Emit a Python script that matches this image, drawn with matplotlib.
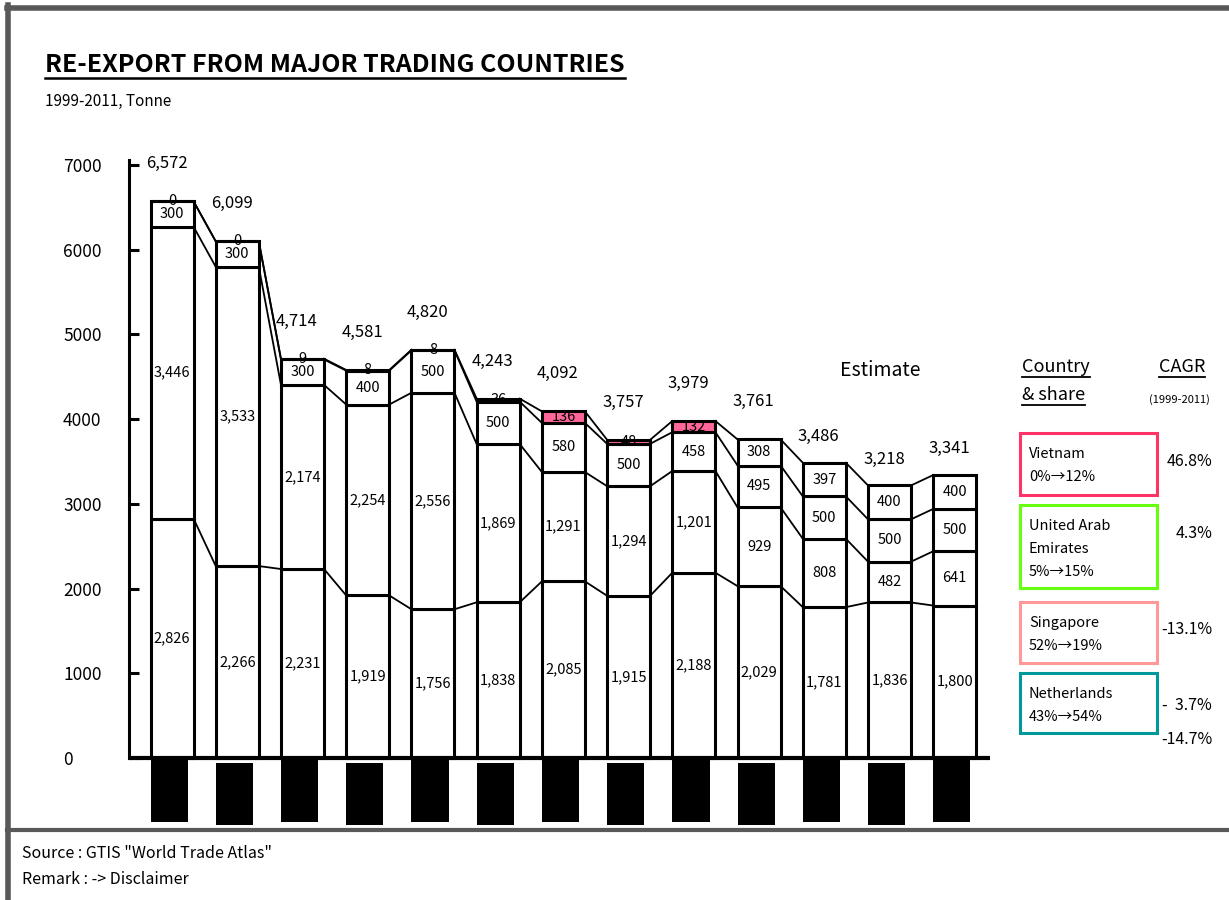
import matplotlib
matplotlib.use('Agg')
import matplotlib.pyplot as plt
import numpy as np
from matplotlib.patches import Rectangle
from matplotlib.lines import Line2D

plt.rcParams['font.family'] = ['Noto Sans CJK JP', 'DejaVu Sans']

# data (tonnes), bottom -> top of each stacked bar
years = [1999, 2000, 2001, 2002, 2003, 2004, 2005, 2006, 2007, 2008, 2009, 2010, 2011]
netherlands = [2826, 2266, 2231, 1919, 1756, 1838, 2085, 1915, 2188, 2029, 1781, 1836, 1800]
singapore = [3446, 3533, 2174, 2254, 2556, 1869, 1291, 1294, 1201, 929, 808, 482, 641]
uae = [300, 300, 300, 400, 500, 500, 580, 500, 458, 495, 500, 500, 500]
vietnam = [0, 0, 9, 8, 8, 36, 136, 48, 132, 308, 397, 400, 400]
estimate_years = [2009, 2010, 2011]
highlight_years = [2005, 2006, 2007]

legend_names = ['Vietnam', 'United Arab\nEmirates', 'Singapore', 'Netherlands']
legend_shares = ['0%→12%', '5%→15%', '52%→19%', '43%→54%']
legend_colors = ['#ff3366', '#66ff11', '#ff9999', '#009999']
cagr_labels = ['46.8%', '4.3%', '-13.1%', '-  3.7%']
cagr_total = '-14.7%'

W, H = 1229, 900
fig = plt.figure(figsize=(W / 100, H / 100), dpi=100)


def fp(x, y):
    # pixel position -> figure fraction
    return x / W, 1 - y / H


ax = fig.add_axes([129 / W, 1 - 830 / H, (990 - 129) / W, (830 - 160) / H])
x = np.arange(len(years))
bw = 0.66

series = [netherlands, singapore, uae, vietnam]
bottom = np.zeros(len(years))
levels = []
for k, vals in enumerate(series):
    vals = np.array(vals)
    colors = ['white'] * len(years)
    if k == 3:
        colors = ['#ff6699' if y in highlight_years else 'white' for y in years]
    ax.bar(x, vals, bw, bottom=bottom, color=colors, edgecolor='black', lw=2.2, zorder=3)
    for i in range(len(years)):
        ax.text(x[i], bottom[i] + vals[i] / 2, f'{vals[i]:,}', ha='center', va='center',
                fontsize=10.5, zorder=5)
    bottom = bottom + vals
    levels.append(bottom.copy())

# connector lines between neighbouring bars
for lev in levels:
    for i in range(len(years) - 1):
        ax.plot([x[i] + bw / 2, x[i + 1] - bw / 2], [lev[i], lev[i + 1]], color='black',
                lw=1.3, zorder=2)

# totals
totals = levels[-1]
for i, y in enumerate(years):
    off = 19 if y in estimate_years else 27
    ax.annotate(f'{int(totals[i]):,}', (x[i], totals[i]), xytext=(-4, off),
                textcoords='offset points', ha='center', va='center', fontsize=12)

# blacked-out year labels
blk_top = [-24 if i % 2 == 0 else -59 for i in range(len(years))]
blk_h = [-732] * len(years)
ax.bar(x - bw / 2, blk_h, 0.57, bottom=blk_top, align='edge', color='black', zorder=3)

ax.axhline(0, color='black', lw=3, zorder=4)
ax.set_xlim(-0.66, 12.54)
ax.set_ylim(-850, 7060)
ax.set_yticks(range(0, 7001, 1000))
ax.set_xticks([])
ax.tick_params(axis='y', direction='in', length=7, width=2.2, pad=47.5, labelsize=12.5)
for lab in ax.get_yticklabels():
    lab.set_horizontalalignment('left')
for s in ['top', 'right', 'bottom']:
    ax.spines[s].set_visible(False)
ax.spines['left'].set_linewidth(2.2)
ax.spines['left'].set_bounds(0, 7060)
ax.patch.set_alpha(0)

# frame
gray = '#595959'
fig.add_artist(Line2D([fp(7, 0)[0], 1], [fp(0, 7.5)[1]] * 2, color=gray, lw=4))
fig.add_artist(Line2D([fp(7.5, 0)[0]] * 2, [fp(0, 5)[1], 0], color=gray, lw=4))
fig.add_artist(Line2D([fp(7, 0)[0], 1], [fp(0, 830)[1]] * 2, color=gray, lw=3))


def underline(t, lw=1.3, gap=1):
    fig.canvas.draw()
    bb = t.get_window_extent()
    inv = fig.transFigure.inverted()
    (x0, y0), (x1, _) = inv.transform([(bb.x0, bb.y0), (bb.x1, bb.y0)])
    fig.add_artist(Line2D([x0, x1], [y0 - gap / H] * 2, color='black', lw=lw))


t = fig.text(*fp(45, 65), 'RE-EXPORT FROM MAJOR TRADING COUNTRIES', fontsize=18,
             fontweight='bold', va='center')
underline(t, lw=1.8)
fig.text(*fp(45, 101), '1999-2011, Tonne', fontsize=11, va='center')
fig.text(*fp(22, 853), 'Source : GTIS "World Trade Atlas"', fontsize=11.5, va='center')
fig.text(*fp(22, 879), 'Remark : -> Disclaimer', fontsize=11.5, va='center')
fig.text(*fp(880, 371), 'Estimate', fontsize=14, ha='center', va='center')

# legend panel
t = fig.text(*fp(1022, 367), 'Country', fontsize=13, va='center')
underline(t)
t = fig.text(*fp(1022, 395), '& share', fontsize=13, va='center')
underline(t)
t = fig.text(*fp(1205, 367), 'CAGR', fontsize=13, va='center', ha='right')
underline(t)
fig.text(*fp(1210, 400), '(1999-2011)', fontsize=8, va='center', ha='right')

box_y = [(433, 495), (505, 588), (602, 663), (673, 733)]
cagr_y = [462, 534, 629, 706]
for k in range(4):
    y0, y1 = box_y[k]
    fig.add_artist(Rectangle(fp(1020, y1), 137 / W, (y1 - y0) / H, fill=False,
                             edgecolor=legend_colors[k], lw=2.2))
    lines = legend_names[k].split('\n') + [legend_shares[k]]
    for j, s in enumerate(lines):
        fig.text(*fp(1029, y0 + 21 + j * 23), s, fontsize=10.5, va='center')
    fig.text(*fp(1212, cagr_y[k]), cagr_labels[k], fontsize=11.5, va='center', ha='right')
fig.text(*fp(1212, 740), cagr_total, fontsize=11.5, va='center', ha='right')

fig.savefig('out.png', dpi=100)
